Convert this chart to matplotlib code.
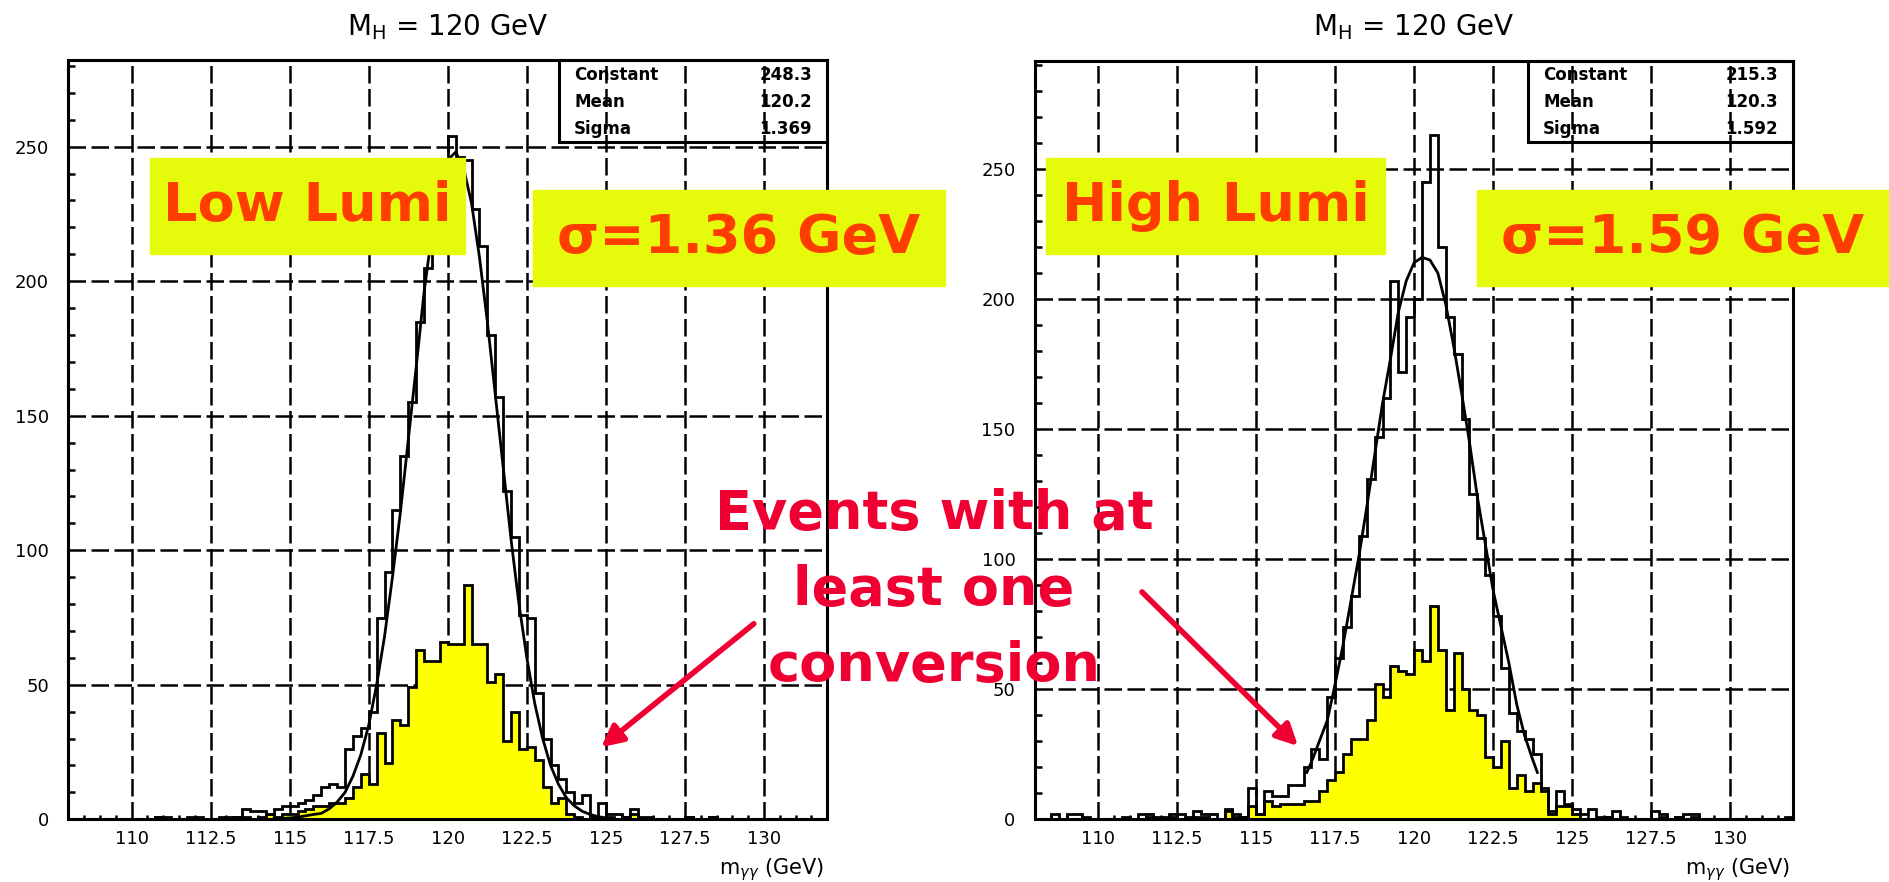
import numpy as np
import matplotlib
matplotlib.use("Agg")
import matplotlib.pyplot as plt
from matplotlib.patches import Rectangle, FancyArrowPatch

W, H = 1889, 882

# m_gg histograms: 96 bins of 0.25 GeV between 108 and 132 (one row = 1 GeV)
edges = np.linspace(108, 132, 97)

lo_all = [0, 0, 0, 0,  0, 0, 0, 0,  0, 0, 0, 1,  1, 0, 0, 1,
          1, 0, 0, 1,  1, 1, 4, 3,  3, 2, 4, 5,  5, 6, 7, 9,
          12, 13, 12, 26,  31, 34, 40, 75,  92, 115, 135, 155,  185, 205, 222, 238,
          254, 246, 245, 227,  213, 180, 157, 122,  105, 76, 75, 47,  30, 20, 15, 10,
          6, 9, 1, 6,  2, 2, 1, 4,  1, 1, 0, 0,  0, 0, 1, 0,
          0, 1, 0, 0,  0, 0, 0, 0,  0, 0, 0, 0,  0, 0, 0, 0]
lo_conv = [0, 0, 0, 0,  0, 0, 0, 0,  0, 0, 0, 1,  0, 0, 0, 0,
           0, 0, 0, 0,  0, 1, 1, 0,  1, 2, 1, 2,  2, 3, 4, 5,
           5, 6, 6, 8,  12, 17, 13, 32,  21, 37, 35, 49,  63, 59, 59, 66,
           65, 65, 87, 65,  65, 51, 54, 29,  40, 26, 27, 22,  12, 6, 8, 2,
           1, 0, 0, 0,  1, 0, 1, 2,  0, 0, 0, 0,  0, 0, 1, 0,
           0, 1, 0, 0,  0, 0, 0, 0,  0, 0, 0, 0,  0, 0, 0, 0]
hi_all = [0, 0, 2, 0,  2, 2, 1, 0,  0, 0, 0, 1,  0, 2, 2, 1,
          1, 2, 2, 1,  3, 2, 2, 0,  4, 2, 1, 12,  2, 11, 9, 9,
          13, 13, 20, 27,  23, 47, 62, 74,  86, 109, 131, 147,  162, 207, 172, 193,
          200, 245, 263, 220,  193, 179, 154, 125,  108, 94, 78, 58,  41, 34, 31, 25,
          12, 3, 11, 6,  4, 2, 4, 1,  1, 3, 1, 0,  0, 0, 3, 2,
          0, 1, 2, 2,  0, 0, 0, 0,  0, 0, 0, 0,  0, 0, 0, 1]
hi_conv = [0, 0, 0, 0,  0, 0, 0, 0,  0, 0, 0, 0,  0, 0, 1, 0,
           0, 1, 0, 0,  1, 1, 0, 0,  3, 1, 1, 5,  2, 7, 5, 6,
           6, 6, 7, 7,  11, 15, 18, 25,  31, 31, 38, 52,  47, 59, 57, 56,
           65, 61, 82, 65,  42, 64, 50, 42,  40, 24, 20, 30,  12, 17, 11, 14,
           11, 2, 5, 5,  2, 0, 0, 0,  1, 0, 0, 0,  0, 0, 0, 1,
           0, 1, 0, 1,  0, 0, 0, 0,  0, 0, 0, 0,  0, 0, 0, 0]

# gaussian fit curves
lo_fit_x = [114.5, 114.75, 115.0, 115.25, 115.5, 115.75, 116.0, 116.25, 116.5, 116.75,
            117.0, 117.25, 117.5, 117.75, 118.0, 118.25, 118.5, 118.75, 119.0, 119.25,
            119.5, 119.75, 120.0, 120.25, 120.5, 120.75, 121.0, 121.25, 121.5, 121.75,
            122.0, 122.25, 122.5, 122.75, 123.0, 123.25, 123.5, 123.75, 124.0, 124.25,
            124.5, 124.75, 125.0]
lo_fit_y = [0.2, 0.3, 0.5, 0.8, 1.3, 1.8, 2.2, 3.9, 6.4, 10,
            16, 24, 35, 50, 68, 90, 114, 141, 168, 196,
            218, 235, 245, 248, 242, 229, 209, 185, 158, 131,
            104, 80, 60, 43, 30, 20, 13, 8, 5, 3,
            1.8, 1, 0.5]
hi_fit_x = [116.6, 116.75, 117.0, 117.25, 117.5, 117.75, 118.0, 118.25, 118.5, 118.75,
            119.0, 119.25, 119.5, 119.75, 120.0, 120.25, 120.5, 120.75, 121.0, 121.25,
            121.5, 121.75, 122.0, 122.25, 122.5, 122.75, 123.0, 123.25, 123.5, 123.75,
            123.9]
hi_fit_y = [18, 22, 30, 38, 52, 67, 84, 101, 120, 140,
            160, 177, 195, 207, 214, 216, 215, 210, 198, 182,
            164, 145, 124, 106, 88, 74, 60, 44, 32, 23,
            18]

lo_stats = [("Constant", "248.3"), ("Mean", "120.2"), ("Sigma", "1.369")]
hi_stats = [("Constant", "215.3"), ("Mean", "120.3"), ("Sigma", "1.592")]

xticks = [110, 112.5, 115, 117.5, 120, 122.5, 125, 127.5, 130]
xlabels = ["110", "112.5", "115", "117.5", "120", "122.5", "125", "127.5", "130"]
yticks = [0, 50, 100, 150, 200, 250]

BOX = "#e6fa0c"
ORANGE = "#ff3d00"
RED = "#f00032"


def fx(px):
    return px / W


def fy(py):
    return 1 - py / H


fig = plt.figure(figsize=(W / 100, H / 100), dpi=100)


def panel(left, right, top, allc, conv, fit_x, fit_y, stats, ytop, box_x):
    bottom = 819.3
    ax = fig.add_axes([fx(left), fy(bottom), (right - left) / W, (bottom - top) / H])
    ax.set_xlim(108, 132)
    ax.set_ylim(0, ytop)
    ax.grid(True, color="black", lw=1.8, linestyle=(0, (7, 2.2)))
    ax.set_axisbelow(True)
    ax.stairs(conv, edges, fill=True, color="#ffff00", zorder=2)
    ax.stairs(conv, edges, color="black", lw=2.0, zorder=3)
    ax.stairs(allc, edges, color="black", lw=2.0, zorder=3)
    ax.plot(fit_x, fit_y, color="black", lw=2.0, zorder=3)

    ax.set_xticks(xticks)
    ax.set_xticklabels(xlabels)
    ax.set_yticks(yticks)
    ax.set_xticks(np.arange(108, 132.01, 0.5), minor=True)
    ax.set_yticks(np.arange(0, ytop, 10), minor=True)
    ax.tick_params(which="both", direction="in", width=1.8, labelsize=13)
    ax.tick_params(axis="x", which="major", length=0, pad=8)
    ax.tick_params(axis="y", which="major", length=0, pad=14)
    ax.tick_params(axis="x", which="minor", length=3)
    ax.tick_params(axis="y", which="minor", length=5)
    for s in ax.spines.values():
        s.set_linewidth(2.2)

    # stats box
    bx0 = (box_x - left) / (right - left)
    by0 = (bottom - 142) / (bottom - top)
    ax.add_patch(Rectangle((bx0, by0), 1 - bx0, 1 - by0, transform=ax.transAxes,
                           fill=False, lw=2.2, color="black", zorder=4, clip_on=False))
    for i, (name, val) in enumerate(stats):
        yy = (bottom - (75 + 27 * i)) / (bottom - top)
        ax.text(bx0 + 0.02, yy, name, transform=ax.transAxes, fontsize=12,
                weight="bold", va="center", ha="left")
        ax.text(0.98, yy, val, transform=ax.transAxes, fontsize=12,
                weight="bold", va="center", ha="right")

    ax.text(0.5, 1 + (top - 27) / (bottom - top), r"M$_\mathrm{H}$ = 120 GeV",
            transform=ax.transAxes, ha="center", va="center", fontsize=20)
    ax.text(0.995, -(870 - bottom) / (bottom - top), r"m$_{\gamma\gamma}$ (GeV)",
            transform=ax.transAxes, ha="right", va="center", fontsize=15)
    return ax


panel(68.3, 827.3, 60, lo_all, lo_conv, lo_fit_x, lo_fit_y, lo_stats, 282.2, 559)
panel(1035, 1793.3, 61, hi_all, hi_conv, hi_fit_x, hi_fit_y, hi_stats, 291.5, 1528)


def label_box(x0, x1, y0, y1, text):
    fig.add_artist(Rectangle((fx(x0), fy(y1)), (x1 - x0) / W, (y1 - y0) / H,
                             transform=fig.transFigure, color=BOX, zorder=5))
    fig.text(fx((x0 + x1) / 2), fy((y0 + y1) / 2), text, ha="center", va="center",
             fontsize=39, weight="bold", color=ORANGE, zorder=6)


label_box(150, 465, 158, 254, "Low Lumi")
label_box(533, 945, 190, 286, "σ=1.36 GeV")
label_box(1046, 1385, 158, 254, "High Lumi")
label_box(1477, 1889, 190, 286, "σ=1.59 GeV")

fig.text(fx(934), fy(590), "Events with at\nleast one\nconversion", ha="center",
         va="center", fontsize=39, weight="bold", color=RED, linespacing=1.58, zorder=6)

for (x0, y0), (x1, y1) in [((756, 622), (599, 749)), ((1140, 590), (1300, 748))]:
    fig.add_artist(FancyArrowPatch((fx(x0), fy(y0)), (fx(x1), fy(y1)),
                                   transform=fig.transFigure, arrowstyle="-|>",
                                   mutation_scale=32, lw=4, color=RED, zorder=6))

fig.savefig("out.png", dpi=100)
